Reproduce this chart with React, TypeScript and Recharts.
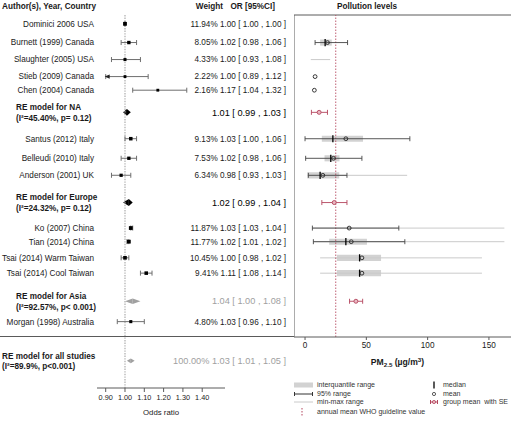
import React from 'react';
import {
  ComposedChart,
  Scatter,
  ErrorBar,
  XAxis,
  YAxis,
  ReferenceLine,
  ReferenceArea,
  Legend,
  Label,
} from 'recharts';

// ---- forest plot: odds ratios per study ----
const studyNames = [
  'Dominici 2006 USA',
  'Burnett (1999) Canada',
  'Slaughter (2005) USA',
  'Stieb (2009) Canada',
  'Chen (2004) Canada',
  'Santus (2012) Italy',
  'Belleudi (2010) Italy',
  'Anderson (2001) UK',
  'Ko (2007) China',
  'Tian (2014) China',
  'Tsai (2014) Warm Taiwan',
  'Tsai (2014) Cool Taiwan',
  'Morgan (1998) Australia',
];
// row of each study in the table (0 = top, not evenly spaced in the original)
const studyRows = [1.4, 2.5, 3.5, 4.5, 5.3, 8.15, 9.3, 10.3, 13.4, 14.2, 15.15, 16.05, 18.9];
const studyWeights = [11.94, 8.05, 4.33, 2.22, 2.16, 9.13, 7.53, 6.34, 11.87, 11.77, 10.45, 9.41, 4.8];
const studyOR = [1.0, 1.02, 1.0, 1.0, 1.17, 1.03, 1.02, 0.98, 1.03, 1.02, 1.0, 1.11, 1.03];
const studyLo = [1.0, 0.98, 0.93, 0.89, 1.04, 1.0, 0.98, 0.93, 1.03, 1.01, 0.98, 1.08, 0.96];
const studyHi = [1.0, 1.06, 1.08, 1.12, 1.32, 1.06, 1.06, 1.03, 1.04, 1.02, 1.02, 1.14, 1.1];

const summaryLabels = ['RE model for NA', 'RE model for Europe', 'RE model for Asia', 'RE model for all studies'];
const summaryStats = ['(I²=45.40%, p= 0.12)', '(I²=24.32%, p= 0.12)', '(I²=92.57%, p< 0.001)', '(I²=89.9%, p<0.001)'];
const summaryRows = [6.6, 11.9, 17.7, 21.2];
const summaryWeights: (number | null)[] = [null, null, null, 100];
const summaryOR = [1.01, 1.02, 1.04, 1.03];
const summaryLo = [0.99, 0.99, 1.0, 1.01];
const summaryHi = [1.03, 1.04, 1.08, 1.05];

const orTicks = [0.9, 1.0, 1.1, 1.2, 1.3, 1.4];

// ---- pollution levels, PM2.5 in µg/m³ (same order as studyNames) ----
const pmMin = [null, null, 4.7, null, null, null, null, 1.9, 6, 6.8, 12.3, 12.3, null];
const pmMax = [null, null, 20.5, null, null, null, null, 83.3, 162.6, 162.6, 144.3, 144.3, null];
const pmP025 = [null, 8.2, null, null, null, 0, 0.5, 2.7, 6, 6.8, null, null, null];
const pmP975 = [null, 34.7, null, null, null, 85.5, 46.4, 34.2, 76.5, 81.4, null, null, null];
const pmQ1 = [null, 12.3, null, null, null, 13.7, 15.9, 1.9, null, 19.7, 26, 26, null];
const pmQ3 = [null, 21.8, null, null, null, 47.3, 28.1, 27.9, null, 50.5, 62, 62, null];
const pmMedian = [null, 16.4, null, null, null, 22.7, 21, 12.3, null, 33.3, 44.5, 44.5, null];
const pmMean = [null, 18.3, null, 8.2, 7.6, 33.3, 23.2, 14.5, 36, 37.7, 46.4, 46.4, null];

// group means (NA, Europe, Asia) with SE
const groupMean = [11.5, 23.8, 41.5];
const groupSeLo = [5.2, 13.7, 36.3];
const groupSeHi = [18.3, 34.2, 47.0];

const pmTicks = [0, 50, 100, 150];
const whoGuideline = 25;

const legendLeft = ['interquantile range', '95% range', 'min-max range', 'annual mean WHO guideline value'];
const legendRight = ['median', 'mean', 'group mean  with SE'];

// ---- layout / style ----
const FONT = '"Liberation Sans", Arial, Helvetica, sans-serif';
const INK = '#1a1a1a';
const FRAME = '#5a5a5a';
const CI_GREY = '#6e6e6e';
const FADED = '#a0a0a0';
const RED = '#b3445c';
const IQR_FILL = '#d2d2d2';
const RANGE_GREY = '#cacaca';
const summaryColors = ['#000', '#000', FADED, FADED];
const summaryHalfHeight = [0.2, 0.2, 0.16, 0.14];
const summaryIndent = [81, 81, 81, 95];

const ROW_SPAN = 22.8;
const HEADER_ROW = 0.35;
const FRAME_TOP = 0.88;
const DIVIDER_ROW = 19.8;
const OR_DOMAIN = [0.855, 1.518];
const OR_LIMIT = 0.9;
const PM_DOMAIN = [-9, 168];
const BOX_HALF = 0.18;

const fmt = (v: number) => v.toFixed(2);
const rowKey = (v: number) => v.toFixed(2);

const studies = studyNames.map((name, i) => ({
  name,
  row: studyRows[i],
  x: studyOR[i],
  weight: studyWeights[i],
  lo: studyLo[i],
  hi: studyHi[i],
  ci: [studyOR[i] - Math.max(studyLo[i], OR_LIMIT), studyHi[i] - studyOR[i]],
}));
const clipped = studies.filter((s) => s.lo < OR_LIMIT).map((s) => ({ x: OR_LIMIT, row: s.row }));

const summaries = summaryLabels.map((label, i) => ({
  label,
  stat: summaryStats[i],
  row: summaryRows[i],
  or: summaryOR[i],
  lo: summaryLo[i],
  hi: summaryHi[i],
  weight: summaryWeights[i],
  i,
}));

const tableRows = [HEADER_ROW, ...studyRows, ...summaryRows];
const studyByRow = new Map(studies.map((s) => [rowKey(s.row), s]));
const summaryByRow = new Map(summaries.map((s) => [rowKey(s.row), s]));

const hasAll = (...arrs: (number | null)[][]) => (i: number) => arrs.every((a) => a[i] != null);
const idx = studyNames.map((_, i) => i);

const minMax = idx.filter(hasAll(pmMin, pmMax)).map((i) => ({ row: studyRows[i], lo: pmMin[i]!, hi: pmMax[i]! }));
const iqr = idx.filter(hasAll(pmQ1, pmQ3)).map((i) => ({ row: studyRows[i], lo: pmQ1[i]!, hi: pmQ3[i]! }));
const p95 = idx.filter(hasAll(pmP025, pmP975, pmMean)).map((i) => ({
  row: studyRows[i],
  x: pmMean[i]!,
  err: [pmMean[i]! - pmP025[i]!, pmP975[i]! - pmMean[i]!],
}));
const means = idx.filter(hasAll(pmMean)).map((i) => ({ row: studyRows[i], x: pmMean[i]! }));
const medians = idx.filter(hasAll(pmMedian)).map((i) => ({ row: studyRows[i], x: pmMedian[i]! }));
const groups = groupMean.map((m, i) => ({
  row: summaryRows[i],
  x: m,
  se: [m - groupSeLo[i], groupSeHi[i] - m],
}));

const NameTick = (props: any) => {
  const { x, y, payload } = props;
  const k = rowKey(payload.value);
  if (k === rowKey(HEADER_ROW)) {
    return (
      <text x={x - 95} y={y} dy="0.35em" fontSize={8.2} fontWeight="bold" fill={INK}>
        Author(s), Year, Country
      </text>
    );
  }
  const s = studyByRow.get(k);
  if (s) {
    return (
      <text x={x - 3} y={y} dy="0.35em" textAnchor="end" fontSize={8.2} fill={INK}>
        {s.name}
      </text>
    );
  }
  const m = summaryByRow.get(k);
  if (!m) return <g />;
  return (
    <g fontSize={8.2} fontWeight="bold" fill={INK}>
      <text x={x - summaryIndent[m.i]} y={y - 5} dy="0.35em">{m.label}</text>
      <text x={x - summaryIndent[m.i]} y={y + 5.5} dy="0.35em">{m.stat}</text>
    </g>
  );
};

const ValueTick = (props: any) => {
  const { x, y, payload } = props;
  const k = rowKey(payload.value);
  if (k === rowKey(HEADER_ROW)) {
    return (
      <g fontSize={8.2} fontWeight="bold" fill={INK}>
        <text x={x - 2} y={y} dy="0.35em" textAnchor="end">Weight</text>
        <text x={x + 50} y={y} dy="0.35em" textAnchor="end">OR [95%CI]</text>
      </g>
    );
  }
  const s = studyByRow.get(k);
  if (s) {
    return (
      <text x={x + 61} y={y} dy="0.35em" textAnchor="end" fontSize={8.2} fill={INK}>
        {`${fmt(s.weight)}% ${fmt(s.x)} [ ${fmt(s.lo)} , ${fmt(s.hi)} ]`}
      </text>
    );
  }
  const m = summaryByRow.get(k);
  if (!m) return <g />;
  const w = m.weight != null ? `${fmt(m.weight)}% ` : '';
  return (
    <text x={x + 61} y={y} dy="0.35em" textAnchor="end" fontSize={9.2} fill={summaryColors[m.i]}>
      {`${w}${fmt(m.or)} [ ${fmt(m.lo)} , ${fmt(m.hi)} ]`}
    </text>
  );
};

const Square = (props: any) => {
  const { cx, cy, payload } = props;
  const s = 2.6 + payload.weight * 0.1;
  return <rect x={cx - s / 2} y={cy - s / 2} width={s} height={s} fill="#000" />;
};

const Arrow = (props: any) => {
  const { cx, cy } = props;
  return <polygon points={`${cx - 1},${cy} ${cx + 4},${cy - 2.2} ${cx + 4},${cy + 2.2}`} fill="#222" />;
};

const leftHalf = (fill: string) => (p: any) => (
  <polygon points={`${p.x},${p.y + p.height / 2} ${p.x + p.width},${p.y} ${p.x + p.width},${p.y + p.height}`} fill={fill} />
);
const rightHalf = (fill: string) => (p: any) => (
  <polygon points={`${p.x},${p.y} ${p.x + p.width},${p.y + p.height / 2} ${p.x},${p.y + p.height}`} fill={fill} />
);

const Hidden = () => <g />;
const MeanDot = (props: any) => (
  <circle cx={props.cx} cy={props.cy} r={1.9} fill="none" stroke="#222" strokeWidth={0.9} />
);
const MedianBar = (props: any) => (
  <line x1={props.cx} x2={props.cx} y1={props.cy - 3.6} y2={props.cy + 3.6} stroke="#000" strokeWidth={1.3} />
);
const GroupDot = (props: any) => (
  <circle cx={props.cx} cy={props.cy} r={2} fill="#e9b8c2" stroke={RED} strokeWidth={0.9} />
);

const PanelTitle = (props: any) => {
  const vb = props.viewBox || { x: 0, y: 15 };
  return (
    <text x={vb.x + 73} y={vb.y - 9} dy="0.35em" textAnchor="middle" fontSize={8.2} fontWeight="bold" fill={INK}>
      Pollution levels
    </text>
  );
};

const PmLabel = (props: any) => {
  const vb = props.viewBox || { x: 294, y: 337, width: 217 };
  return (
    <text x={vb.x + vb.width / 2 - 5} y={vb.y + 28} textAnchor="middle" fontSize={8.6} fontWeight="bold" fill={INK}>
      PM
      <tspan fontSize={6.2} dy={2}>2.5</tspan>
      <tspan dy={-2}> (µg/m</tspan>
      <tspan fontSize={6.2} dy={-3}>3</tspan>
      <tspan dy={3}>)</tspan>
    </text>
  );
};

const rowY = [7, 16, 24, 34];
const PollutionLegend = () => (
  <svg width={217} height={44} style={{ display: 'block', overflow: 'visible' }} fontSize={7} fill="#333">
    <rect x={0} y={rowY[0] - 2.5} width={19} height={5} fill={IQR_FILL} />
    <line x1={0} x2={19} y1={rowY[1]} y2={rowY[1]} stroke="#333" />
    <line x1={0.5} x2={0.5} y1={rowY[1] - 2} y2={rowY[1] + 2} stroke="#333" />
    <line x1={18.5} x2={18.5} y1={rowY[1] - 2} y2={rowY[1] + 2} stroke="#333" />
    <line x1={0} x2={19} y1={rowY[2]} y2={rowY[2]} stroke={RANGE_GREY} />
    <line x1={8} x2={8} y1={rowY[3] - 4} y2={rowY[3] + 4} stroke={RED} strokeDasharray="1.5 1.5" />
    {legendLeft.map((t, i) => (
      <text key={t} x={23} y={rowY[i]} dy="0.35em">{t}</text>
    ))}
    <line x1={140} x2={140} y1={rowY[0] - 3.5} y2={rowY[0] + 3.5} stroke="#000" strokeWidth={1.3} />
    <circle cx={140} cy={rowY[1]} r={1.6} fill="none" stroke="#333" strokeWidth={0.8} />
    <line x1={136} x2={144} y1={rowY[2]} y2={rowY[2]} stroke={RED} />
    <line x1={136.5} x2={136.5} y1={rowY[2] - 2} y2={rowY[2] + 2} stroke={RED} />
    <line x1={143.5} x2={143.5} y1={rowY[2] - 2} y2={rowY[2] + 2} stroke={RED} />
    <circle cx={140} cy={rowY[2]} r={1.6} fill="#e9b8c2" stroke={RED} strokeWidth={0.8} />
    {legendRight.map((t, i) => (
      <text key={t} x={149} y={rowY[i]} dy="0.35em" style={{ whiteSpace: 'pre' }}>{t}</text>
    ))}
  </svg>
);

export default function App() {
  return (
    <div
      style={{
        position: 'absolute',
        left: 0,
        top: 0,
        width: 511,
        height: 424,
        overflow: 'hidden',
        background: '#fff',
        fontFamily: FONT,
      }}
    >
      <div style={{ position: 'absolute', left: 0, top: 0 }}>
        <ComposedChart width={294} height={424} margin={{ top: 0, right: 0, bottom: 0, left: 0 }}>
          <XAxis
            type="number"
            dataKey="x"
            domain={OR_DOMAIN}
            allowDataOverflow
            ticks={orTicks}
            interval={0}
            tickFormatter={(v: number) => v.toFixed(2)}
            height={36}
            tickSize={4}
            tickMargin={3}
            axisLine={{ stroke: FRAME }}
            tickLine={{ stroke: FRAME }}
            tick={{ fontSize: 7.3, fill: INK }}
          >
            <Label value="Odds ratio" position="insideBottom" offset={9} fontSize={7.8} fill={INK} />
          </XAxis>
          <YAxis
            yAxisId="names"
            type="number"
            dataKey="row"
            domain={[0, ROW_SPAN]}
            reversed
            allowDataOverflow
            ticks={tableRows}
            interval={0}
            width={97}
            axisLine={false}
            tickLine={false}
            tickSize={0}
            tickMargin={0}
            tick={NameTick}
          />
          <YAxis
            yAxisId="values"
            orientation="right"
            type="number"
            dataKey="row"
            domain={[0, ROW_SPAN]}
            reversed
            allowDataOverflow
            ticks={tableRows}
            interval={0}
            width={69}
            axisLine={false}
            tickLine={false}
            tickSize={0}
            tickMargin={0}
            tick={ValueTick}
          />
          <ReferenceLine
            yAxisId="names"
            segment={[{ x: 1, y: FRAME_TOP }, { x: 1, y: ROW_SPAN }]}
            stroke="#b8b8b8"
            strokeWidth={1.4}
            strokeDasharray="1.4 1.2"
          />
          {summaries.map((m) => (
            <ReferenceArea
              key={`l${m.i}`}
              yAxisId="names"
              x1={m.lo}
              x2={m.or}
              y1={m.row - summaryHalfHeight[m.i]}
              y2={m.row + summaryHalfHeight[m.i]}
              shape={leftHalf(summaryColors[m.i])}
            />
          ))}
          {summaries.map((m) => (
            <ReferenceArea
              key={`r${m.i}`}
              yAxisId="names"
              x1={m.or}
              x2={m.hi}
              y1={m.row - summaryHalfHeight[m.i]}
              y2={m.row + summaryHalfHeight[m.i]}
              shape={rightHalf(summaryColors[m.i])}
            />
          ))}
          <Scatter yAxisId="names" data={studies} shape={Square} isAnimationActive={false}>
            <ErrorBar dataKey="ci" direction="x" width={2.5} stroke={CI_GREY} strokeWidth={1} />
          </Scatter>
          <Scatter yAxisId="names" data={clipped} shape={Arrow} isAnimationActive={false} />
        </ComposedChart>
      </div>

      <div style={{ position: 'absolute', left: 0, top: 336, width: 294, height: 1, background: FRAME }} />

      <div style={{ position: 'absolute', left: 294, top: 0 }}>
        <ComposedChart width={217} height={424} margin={{ top: 15, right: 0, bottom: 0, left: 0 }}>
          <XAxis
            type="number"
            dataKey="x"
            domain={PM_DOMAIN}
            allowDataOverflow
            ticks={pmTicks}
            interval={0}
            height={87}
            tickSize={3}
            tickMargin={2}
            axisLine={{ stroke: FRAME }}
            tickLine={{ stroke: FRAME }}
            tick={{ fontSize: 8.2, fill: INK }}
          >
            <Label content={PmLabel} />
          </XAxis>
          <YAxis type="number" dataKey="row" domain={[FRAME_TOP, DIVIDER_ROW]} reversed allowDataOverflow hide />
          <ReferenceLine y={FRAME_TOP} stroke={FRAME} label={PanelTitle} />
          <ReferenceLine x={PM_DOMAIN[0]} stroke={FRAME} />
          {minMax.map((r) => (
            <ReferenceLine
              key={`mm${r.row}`}
              segment={[{ x: r.lo, y: r.row }, { x: r.hi, y: r.row }]}
              stroke={RANGE_GREY}
              strokeWidth={1}
            />
          ))}
          {iqr.map((r) => (
            <ReferenceArea
              key={`iq${r.row}`}
              x1={r.lo}
              x2={r.hi}
              y1={r.row - BOX_HALF}
              y2={r.row + BOX_HALF}
              fill={IQR_FILL}
              fillOpacity={1}
              stroke="none"
            />
          ))}
          <ReferenceLine x={whoGuideline} stroke={RED} strokeOpacity={0.7} strokeWidth={1.2} strokeDasharray="1.5 1.5" />
          <Scatter data={p95} shape={Hidden} isAnimationActive={false}>
            <ErrorBar dataKey="err" direction="x" width={2.5} stroke="#444" strokeWidth={0.9} />
          </Scatter>
          <Scatter data={medians} shape={MedianBar} isAnimationActive={false} />
          <Scatter data={means} shape={MeanDot} isAnimationActive={false} />
          <Scatter data={groups} shape={GroupDot} isAnimationActive={false}>
            <ErrorBar dataKey="se" direction="x" width={2.5} stroke={RED} strokeWidth={0.9} />
          </Scatter>
          <Legend
            layout="horizontal"
            verticalAlign="middle"
            align="center"
            wrapperStyle={{ top: 378, left: 0, width: 217 }}
            content={PollutionLegend}
          />
        </ComposedChart>
      </div>
    </div>
  );
}
